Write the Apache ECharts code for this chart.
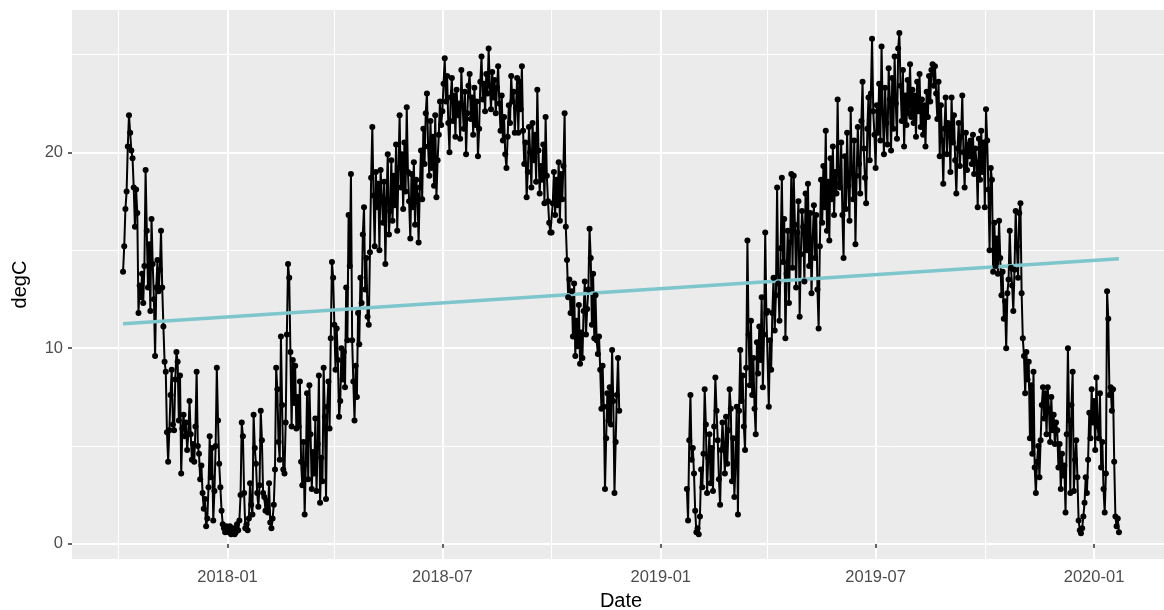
<!DOCTYPE html>
<html>
<head>
<meta charset="utf-8">
<title>degC</title>
<script src="https://cdn.jsdelivr.net/npm/echarts@6/dist/echarts.min.js"></script>
<style>
  html, body { margin: 0; padding: 0; background: #fff; }
  #main { width: 1164px; height: 610px; }
</style>
</head>
<body>
<div id="main"></div>
<script>
// daily temperature
var seg1Start = '2017-10-05';
var oct2017 = [13.9, 15.2, 17.1, 18.0, 20.3, 21.9, 21.0, 20.1, 19.7, 18.2, 16.2, 18.1, 16.9, 11.8, 13.2, 12.6, 13.8, 12.3, 14.2, 19.1, 16.0, 13.1, 15.3, 11.9, 16.6, 14.3, 12.5];
var nov2017 = [9.6, 13.1, 14.5, 12.9, 14.0, 16.0, 13.1, 11.1, 9.3, 8.8, 5.7, 4.2, 5.8, 7.6, 8.9, 6.1, 5.8, 8.4, 9.8, 9.3, 6.3, 8.6, 3.6, 5.9, 6.6, 5.5, 6.2, 4.8, 5.6, 7.3];
var dec2017 = [5.6, 4.3, 5.1, 4.2, 6.0, 8.8, 5.0, 4.6, 3.3, 4.0, 2.6, 1.8, 2.3, 0.9, 1.3, 2.9, 5.5, 3.4, 4.9, 1.2, 2.7, 5.0, 9.0, 6.3, 4.1, 2.9, 1.7, 1.0, 0.8, 0.6, 0.9];
var jan2018 = [0.7, 0.6, 0.9, 0.5, 0.6, 0.8, 0.5, 0.6, 1.0, 0.7, 1.2, 2.5, 6.2, 5.5, 2.6, 0.8, 1.0, 0.7, 1.3, 3.1, 2.0, 1.5, 6.6, 4.9, 4.1, 2.6, 1.9, 3.0, 6.8, 5.3, 2.6];
var feb2018 = [2.4, 1.7, 2.2, 1.6, 3.1, 1.1, 0.8, 1.3, 2.0, 3.8, 9.0, 7.9, 5.2, 4.3, 10.6, 7.1, 3.8, 3.6, 6.2, 10.7, 14.3, 13.6, 9.8, 6.0, 9.4, 7.2, 9.1, 5.9];
var mar2018 = [7.5, 6.0, 8.3, 4.2, 3.0, 5.2, 1.5, 4.1, 7.7, 3.3, 8.1, 5.6, 2.8, 4.7, 3.6, 6.4, 2.7, 5.1, 8.6, 2.1, 4.4, 3.2, 9.0, 6.5, 2.3, 7.0, 8.3, 5.9, 10.5, 14.4, 13.6];
var apr2018 = [11.2, 8.9, 11.0, 9.4, 6.5, 7.3, 10.0, 8.4, 9.8, 8.0, 13.1, 10.4, 16.8, 14.2, 18.9, 10.4, 8.3, 6.3, 9.1, 7.5, 11.8, 10.2, 13.6, 12.3, 15.8, 17.2, 13.0, 14.6, 11.6, 11.2];
var may2018 = [14.9, 18.7, 21.3, 17.8, 15.2, 19.0, 17.2, 18.4, 15.0, 19.1, 17.7, 16.4, 18.5, 14.3, 17.6, 19.9, 15.8, 17.0, 19.6, 16.5, 18.8, 17.3, 20.4, 16.0, 19.2, 21.9, 18.2, 19.9, 17.1, 20.5, 18.0];
var jun2018 = [22.3, 19.0, 17.5, 15.6, 18.9, 17.2, 19.5, 16.3, 18.6, 17.8, 15.4, 18.2, 20.1, 17.6, 21.2, 19.4, 22.0, 23.0, 20.3, 18.8, 21.6, 19.2, 20.8, 18.3, 21.9, 17.7, 19.6, 20.9, 22.6, 21.4];
var jul2018 = [22.1, 23.5, 24.8, 22.6, 23.9, 21.5, 20.0, 22.8, 23.8, 21.6, 22.9, 20.8, 23.2, 21.9, 22.5, 20.7, 24.2, 22.4, 21.2, 23.1, 19.9, 22.0, 23.4, 24.0, 21.7, 22.8, 20.9, 23.3, 21.4, 22.6, 19.8];
var aug2018 = [21.2, 23.6, 24.9, 22.7, 23.5, 22.1, 24.0, 23.0, 25.3, 23.4, 22.2, 24.1, 22.8, 23.7, 22.0, 23.3, 24.4, 22.5, 21.1, 22.9, 20.6, 21.8, 19.9, 19.2, 20.8, 22.4, 21.5, 23.9, 22.6, 23.1, 21.0];
var sep2018 = [22.3, 23.8, 21.0, 23.6, 22.2, 24.4, 21.1, 19.4, 20.5, 17.7, 19.0, 21.3, 20.0, 18.2, 21.5, 19.6, 20.9, 18.5, 23.2, 20.1, 17.9, 19.3, 18.6, 20.4, 17.4, 21.8, 18.8, 17.5, 16.4, 15.9];
var oct2018 = [15.9, 17.4, 19.0, 16.8, 18.6, 17.3, 19.5, 16.5, 18.9, 17.6, 19.3, 22.0, 16.2, 14.5, 12.6, 13.5, 11.8, 12.9, 10.6, 13.3, 9.6, 11.4, 10.1, 12.2, 9.2, 10.8, 9.5, 11.9, 13.4, 10.7, 12.0];
var nov2018 = [13.0, 16.1, 14.6, 11.2, 13.8, 10.5, 12.7, 10.4, 9.7, 10.6, 8.9, 6.9, 9.1, 7.0, 2.8, 5.4, 7.7, 6.3, 8.0, 6.1, 9.9, 7.3, 2.6, 5.2, 7.6, 9.5, 6.8];

var gapDate = '2018-12-25';

var seg2Start = '2019-01-23';
var jan2019 = [2.8, 1.2, 5.3, 7.6, 4.3, 4.9, 3.6, 1.7, 0.6];
var feb2019 = [0.8, 0.5, 1.4, 3.8, 2.9, 4.6, 7.9, 6.1, 2.6, 4.4, 5.6, 3.1, 4.9, 2.7, 6.0, 8.5, 6.8, 5.3, 3.3, 2.0, 4.8, 6.2, 5.0, 3.6, 6.5, 4.1, 5.8, 7.9];
var mar2019 = [6.9, 3.2, 5.4, 2.4, 4.1, 7.0, 1.5, 6.8, 9.9, 7.3, 8.6, 6.0, 4.8, 9.0, 15.5, 10.7, 8.1, 11.4, 7.6, 9.5, 6.9, 5.6, 10.3, 8.7, 11.1, 9.4, 12.6, 8.0, 10.7, 15.9, 11.8];
var apr2019 = [11.9, 7.0, 10.4, 8.9, 11.8, 13.6, 10.9, 12.7, 18.2, 13.3, 11.4, 15.1, 18.7, 14.4, 16.6, 10.5, 13.8, 16.0, 12.3, 15.4, 18.9, 14.1, 18.8, 16.3, 13.1, 15.9, 17.5, 11.6, 14.8, 17.0];
var may2019 = [16.2, 13.4, 17.9, 15.0, 18.4, 14.2, 16.9, 12.8, 15.6, 17.3, 14.6, 16.8, 13.0, 11.0, 15.2, 18.6, 16.4, 19.3, 17.2, 21.1, 16.0, 18.5, 15.5, 19.7, 17.6, 20.3, 16.8, 19.0, 17.9, 22.7, 18.4];
var jun2019 = [18.2, 20.5, 16.8, 14.6, 19.8, 17.1, 21.0, 18.3, 16.5, 22.2, 19.0, 17.6, 20.6, 15.3, 18.8, 21.3, 19.4, 17.9, 21.6, 23.6, 20.2, 18.7, 17.4, 21.2, 22.8, 19.6, 23.0, 25.8, 22.1, 20.9];
var jul2019 = [19.2, 22.4, 21.0, 23.5, 20.6, 25.4, 22.0, 19.9, 23.3, 21.5, 20.4, 24.3, 22.7, 20.1, 23.8, 21.2, 24.9, 22.5, 20.7, 25.3, 26.1, 23.4, 21.6, 24.2, 20.3, 22.9, 21.4, 23.7, 22.0, 24.5, 21.8];
var aug2019 = [23.2, 21.5, 22.9, 20.8, 23.6, 22.1, 24.0, 21.3, 22.7, 20.9, 22.4, 20.3, 23.1, 21.8, 23.9, 22.6, 24.2, 24.5, 23.4, 24.4, 23.0, 21.7, 23.6, 19.8, 22.4, 20.6, 18.4, 21.2, 22.8, 19.9, 21.5];
var sep2019 = [21.3, 19.0, 22.8, 20.5, 21.9, 19.6, 17.9, 20.2, 21.5, 19.3, 20.8, 22.9, 20.0, 18.2, 21.0, 19.1, 20.4, 19.8, 20.6, 19.4, 20.9, 18.9, 20.2, 19.5, 17.2, 20.7, 18.6, 21.1, 19.0, 20.5];
var oct2019 = [17.2, 22.2, 20.6, 18.1, 15.0, 19.2, 18.6, 13.9, 16.4, 14.2, 15.6, 13.8, 16.5, 14.6, 12.7, 13.9, 11.5, 12.4, 10.0, 12.8, 13.5, 16.0, 14.1, 13.2, 11.9, 14.0, 17.0, 15.2, 13.6, 16.9, 17.4];
var nov2019 = [12.8, 10.5, 9.6, 7.7, 9.8, 8.4, 9.3, 5.4, 8.1, 4.6, 8.8, 3.9, 2.6, 4.2, 5.0, 3.4, 5.3, 7.1, 8.0, 6.4, 7.7, 5.6, 8.0, 6.9, 5.2, 7.5, 5.8, 6.6, 5.1, 6.2];
var dec2019 = [5.8, 3.9, 5.1, 2.8, 4.6, 3.5, 4.0, 1.6, 5.6, 10.0, 6.3, 2.6, 7.1, 8.8, 2.7, 4.3, 5.3, 3.4, 1.2, 0.7, 0.55, 0.8, 1.4, 2.1, 3.4, 2.6, 4.3, 6.7, 5.4, 7.9, 6.2];
var jan2020 = [7.3, 4.8, 8.5, 6.0, 5.4, 7.7, 3.9, 5.2, 2.8, 1.6, 3.6, 12.9, 11.5, 7.6, 8.0, 6.8, 7.9, 4.2, 1.4, 0.9, 1.3, 0.6];

// linear trend (lm fit), ends of the line
var trendDates = ['2017-10-05', '2020-01-22'];
var trendValues = [11.24, 14.56];

// axes
var xRange = ['2017-08-23', '2020-03-05'];
var xMajorTicks = ['2018-01-01', '2018-07-01', '2019-01-01', '2019-07-01', '2020-01-01'];
var xMinorTicks = ['2017-10-01', '2018-04-01', '2018-10-01', '2019-04-01', '2019-10-01'];
var yRange = [-0.77, 27.27];
var yMajorTicks = [0, 10, 20];
var yMinorTicks = [5, 15, 25];

var DAY = 86400000;

function daily(start, values) {
  var t0 = Date.parse(start);
  return values.map(function (v, i) { return [t0 + i * DAY, v]; });
}

var seg1 = daily(seg1Start, [].concat(oct2017, nov2017, dec2017, jan2018, feb2018, mar2018,
  apr2018, may2018, jun2018, jul2018, aug2018, sep2018, oct2018, nov2018));
var seg2 = daily(seg2Start, [].concat(jan2019, feb2019, mar2019, apr2019, may2019, jun2019,
  jul2019, aug2019, sep2019, oct2019, nov2019, dec2019, jan2020));

// a hole between the two blocks so the line breaks
var tempData = seg1.concat([[Date.parse(gapDate), '-']], seg2);
var trendData = trendDates.map(function (d, i) { return [Date.parse(d), trendValues[i]]; });

function ms(list) { return list.map(function (d) { return Date.parse(d); }); }

function ym(v) {
  var d = new Date(v);
  var m = d.getUTCMonth() + 1;
  return d.getUTCFullYear() + '-' + (m < 10 ? '0' + m : m);
}

var font = 'Liberation Sans, Arial, Helvetica, sans-serif';

var myChart = echarts.init(document.getElementById('main'), null, { renderer: 'canvas' });

var option = {
  animation: false,
  backgroundColor: '#ffffff',
  grid: {
    left: 72,
    top: 10,
    width: 1098,
    bottom: 51,
    outerBoundsMode: 'none',
    containLabel: false,
    show: true,
    backgroundColor: '#ebebeb',
    borderWidth: 0
  },
  xAxis: [
    {
      type: 'value',
      min: Date.parse(xRange[0]),
      max: Date.parse(xRange[1]),
      axisLine: { show: false },
      axisTick: {
        show: true, length: 4, customValues: ms(xMajorTicks),
        lineStyle: { color: '#333333', width: 1.5 }
      },
      axisLabel: {
        customValues: ms(xMajorTicks), formatter: ym,
        color: '#4d4d4d', fontSize: 16.5, fontFamily: font, margin: 10
      },
      splitLine: { show: true, lineStyle: { color: '#ffffff', width: 2 } },
      name: 'Date',
      nameLocation: 'middle',
      nameGap: 32,
      nameTextStyle: { color: '#000000', fontSize: 20, fontFamily: font }
    },
    {
      // minor grid
      type: 'value',
      position: 'bottom',
      min: Date.parse(xRange[0]),
      max: Date.parse(xRange[1]),
      axisLine: { show: false },
      axisTick: { show: false, customValues: ms(xMinorTicks) },
      axisLabel: { show: false },
      splitLine: { show: true, lineStyle: { color: '#ffffff', width: 1 } }
    }
  ],
  yAxis: [
    {
      type: 'value',
      min: yRange[0],
      max: yRange[1],
      axisLine: { show: false },
      axisTick: {
        show: true, length: 4, customValues: yMajorTicks,
        lineStyle: { color: '#333333', width: 1.5 }
      },
      axisLabel: {
        customValues: yMajorTicks,
        color: '#4d4d4d', fontSize: 16.5, fontFamily: font, margin: 9
      },
      splitLine: { show: true, lineStyle: { color: '#ffffff', width: 2 } },
      name: 'degC',
      nameLocation: 'middle',
      nameGap: 42,
      nameTextStyle: { color: '#000000', fontSize: 20, fontFamily: font }
    },
    {
      type: 'value',
      position: 'left',
      min: yRange[0],
      max: yRange[1],
      axisLine: { show: false },
      axisTick: { show: false, customValues: yMinorTicks },
      axisLabel: { show: false },
      splitLine: { show: true, lineStyle: { color: '#ffffff', width: 1 } }
    }
  ],
  series: [
    {
      type: 'line',
      data: tempData,
      xAxisIndex: 0,
      yAxisIndex: 0,
      silent: true,
      showSymbol: true,
      symbol: 'circle',
      symbolSize: 6,
      itemStyle: { color: '#000000' },
      lineStyle: { color: '#000000', width: 2 },
      connectNulls: false
    },
    {
      type: 'line',
      data: trendData,
      xAxisIndex: 0,
      yAxisIndex: 0,
      silent: true,
      showSymbol: false,
      lineStyle: { color: '#7dc6cc', width: 3.5 }
    }
  ]
};

myChart.setOption(option);
</script>
</body>
</html>
